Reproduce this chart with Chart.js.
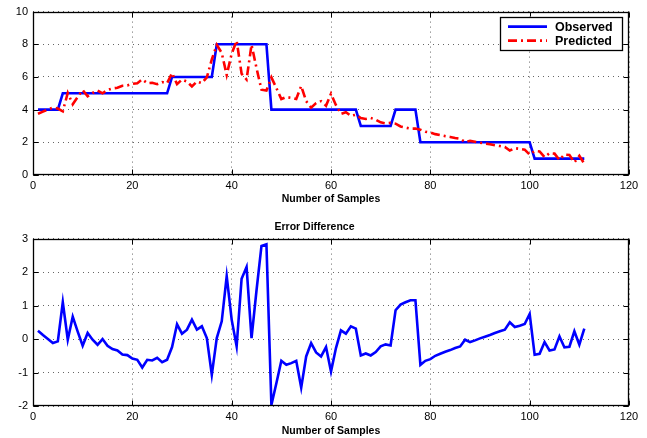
<!DOCTYPE html>
<html><head><meta charset="utf-8">
<script src="https://cdn.jsdelivr.net/npm/chart.js@4/dist/chart.umd.min.js"></script>
<style>
html,body{margin:0;padding:0;background:#fff;overflow:hidden;}
canvas{position:absolute;left:0;}
#c1{top:0;}
#c2{top:210px;}
</style></head><body>
<canvas id="c1" width="647" height="210"></canvas>
<canvas id="c2" width="647" height="228"></canvas>
<script>
const samples = [1,2,3,4,5,6,7,8,9,10,11,12,13,14,15,16,17,18,19,20,21,22,23,24,25,26,27,28,29,30,31,32,33,34,35,36,37,38,39,40,41,42,43,44,45,46,47,48,49,50,51,52,53,54,55,56,57,58,59,60,61,62,63,64,65,66,67,68,69,70,71,72,73,74,75,76,77,78,79,80,81,82,83,84,85,86,87,88,89,90,91,92,93,94,95,96,97,98,99,100,101,102,103,104,105,106,107,108,109,110,111];

const observed = [4,4,4,4,4,
5,5,5,5,5,5,5,5,5,5,5,5,5,5,5,5,5,5,5,5,5,5,
6,6,6,6,6,6,6,6,6,
8,8,8,8,8,8,8,8,8,8,8,
4,4,4,4,4,4,4,4,4,4,4,4,4,4,4,4,4,4,
3,3,3,3,3,3,3,
4,4,4,4,4,
2,2,2,2,2,2,2,2,2,2,2,2,2,2,2,2,2,2,2,2,2,2,2,
1,1,1,1,1,1,1,1,1,1,1];

const predicted = [3.75,3.88,4.0,4.12,4.07,3.9,5.02,4.33,4.78,5.2,
4.82,5.02,5.17,5.0,5.2,5.3,5.34,5.46,5.48,5.58,
5.62,5.85,5.62,5.64,5.56,5.69,5.62,6.24,5.56,5.84,
5.72,5.42,5.72,5.62,5.97,7.07,7.97,7.47,6.12,7.42,
8.22,6.2,5.85,7.97,6.55,5.22,5.17,5.97,5.32,4.65,
4.77,4.72,4.65,5.45,4.52,4.12,4.4,4.52,4.24,4.97,
4.27,3.74,3.84,3.62,3.69,3.49,3.43,3.49,3.39,3.22,
3.16,3.19,3.14,2.97,2.9,2.84,2.84,2.77,2.65,2.6,
2.5,2.44,2.38,2.33,2.27,2.22,2.02,2.09,2.04,1.98,
1.93,1.88,1.82,1.77,1.72,1.5,1.64,1.6,1.55,1.25,
1.47,1.44,1.09,1.34,1.31,0.92,1.25,1.23,0.77,1.17,
0.69];

const errorDiff = [0.25,0.12,0.0,-0.12,-0.07,1.1,-0.02,0.67,0.22,-0.2,
0.18,-0.02,-0.17,0.0,-0.2,-0.3,-0.34,-0.46,-0.48,-0.58,
-0.62,-0.85,-0.62,-0.64,-0.56,-0.69,-0.62,-0.24,0.44,0.16,
0.28,0.58,0.28,0.38,0.03,-1.07,0.03,0.53,1.88,0.58,
-0.22,1.8,2.15,0.03,1.45,2.78,2.83,-1.97,-1.32,-0.65,
-0.77,-0.72,-0.65,-1.45,-0.52,-0.12,-0.4,-0.52,-0.24,-0.97,
-0.27,0.26,0.16,0.38,0.31,-0.49,-0.43,-0.49,-0.39,-0.22,
-0.16,-0.19,0.86,1.03,1.1,1.16,1.16,-0.77,-0.65,-0.6,
-0.5,-0.44,-0.38,-0.33,-0.27,-0.22,-0.02,-0.09,-0.04,0.02,
0.07,0.12,0.18,0.23,0.28,0.5,0.36,0.4,0.45,0.75,
-0.47,-0.44,-0.09,-0.34,-0.31,0.08,-0.25,-0.23,0.23,-0.17,
0.31];

const xTicks = [0,20,40,60,80,100,120];
const yTicksTop = [0,2,4,6,8,10];
const yTicksBottom = [-2,-1,0,1,2,3];
const seriesNames = ['Observed','Predicted'];
const xTitle = 'Number of Samples';
const bottomTitle = 'Error Difference';

const FONT = "'Liberation Sans', Arial, Helvetica, sans-serif";
const pts = (ys) => samples.map((s, i) => ({x: s, y: ys[i]}));

const framePlugin = {
  id: 'frame',
  afterDatasetsDraw(chart) {
    const {ctx, chartArea: a, scales} = chart;
    ctx.save();
    ctx.strokeStyle = '#000';
    ctx.lineWidth = 1.3;
    const l = Math.round(a.left) + 0.5, r = Math.round(a.right) - 0.5;
    const t = Math.round(a.top) + 0.5, b = Math.round(a.bottom) - 0.5;
    ctx.strokeRect(l, t, r - l, b - t);
    const L = 5;
    ctx.lineWidth = 1;
    ctx.beginPath();
    scales.x.ticks.forEach(tk => {
      const px = Math.round(scales.x.getPixelForValue(tk.value)) + 0.5;
      ctx.moveTo(px, b); ctx.lineTo(px, b - L);
      ctx.moveTo(px, t); ctx.lineTo(px, t + L);
    });
    scales.y.ticks.forEach(tk => {
      const py = Math.round(scales.y.getPixelForValue(tk.value)) + 0.5;
      ctx.moveTo(l, py); ctx.lineTo(l + L, py);
      ctx.moveTo(r, py); ctx.lineTo(r - L, py);
    });
    ctx.stroke();
    ctx.restore();
  }
};

const legendPlugin = {
  id: 'boxLegend',
  afterDraw(chart) {
    const {ctx, chartArea: a} = chart;
    const w = 122, h = 33;
    const x0 = a.right - 7 - w, y0 = a.top + 5;
    ctx.save();
    ctx.fillStyle = '#fff';
    ctx.fillRect(x0, y0, w, h);
    ctx.strokeStyle = '#000';
    ctx.lineWidth = 1.3;
    ctx.strokeRect(Math.round(x0) + 0.5, Math.round(y0) + 0.5, w, h);
    chart.data.datasets.forEach((ds, i) => {
      const cy = y0 + 10 + i * 14;
      ctx.strokeStyle = ds.borderColor;
      ctx.lineWidth = ds.borderWidth;
      ctx.setLineDash(ds.borderDash || []);
      ctx.beginPath();
      ctx.moveTo(x0 + 8, cy); ctx.lineTo(x0 + 47, cy);
      ctx.stroke();
      ctx.setLineDash([]);
      ctx.fillStyle = '#000';
      ctx.font = "bold 12.5px " + FONT;
      ctx.textBaseline = 'middle';
      ctx.textAlign = 'left';
      ctx.fillText(ds.label, x0 + 55, cy + 0.5);
    });
    ctx.restore();
  }
};

function xScale(titlePadBottom, h) {
  return {
    type: 'linear', min: 0, max: 120,
    afterBuildTicks: s => { s.ticks = xTicks.map(v => ({value: v})); },
    afterFit: s => { s.height = h; },
    ticks: {color: '#000', font: {family: FONT, size: 11}, padding: 4, maxRotation: 0},
    grid: {color: 'rgba(0,0,0,0.6)', lineWidth: 1, drawTicks: false},
    border: {display: false, dash: [1, 4]},
    title: {display: true, text: xTitle, color: '#000', font: {family: FONT, size: 10.5, weight: 'bold'}, padding: {top: 0, bottom: titlePadBottom}}
  };
}
function yScale(min, max, ticksArr) {
  return {
    type: 'linear', min: min, max: max,
    afterBuildTicks: s => { s.ticks = ticksArr.map(v => ({value: v})); },
    afterFit: s => { s.width = 33; },
    ticks: {color: '#000', font: {family: FONT, size: 11}, padding: 5},
    grid: {color: 'rgba(0,0,0,0.6)', lineWidth: 1, drawTicks: false},
    border: {display: false, dash: [1, 4]}
  };
}

new Chart(document.getElementById('c1'), {
  type: 'line',
  data: {
    datasets: [
      {label: seriesNames[0], data: pts(observed), borderColor: '#0000ff', borderWidth: 2.6, pointRadius: 0, tension: 0, fill: false, order: 1},
      {label: seriesNames[1], data: pts(predicted), borderColor: '#ff0000', borderWidth: 2.6, borderDash: [9, 4, 2, 4], pointRadius: 0, tension: 0, fill: false, order: 0}
    ]
  },
  options: {
    responsive: false, animation: false,
    layout: {padding: {left: 0, right: 18, top: 9, bottom: 0}},
    plugins: {legend: {display: false}, tooltip: {enabled: false}, title: {display: false}},
    scales: {x: xScale(5, 35), y: yScale(0, 10, yTicksTop)}
  },
  plugins: [framePlugin, legendPlugin]
});

new Chart(document.getElementById('c2'), {
  type: 'line',
  data: {
    datasets: [
      {label: bottomTitle, data: pts(errorDiff), borderColor: '#0000ff', borderWidth: 2.6, pointRadius: 0, tension: 0, fill: false}
    ]
  },
  options: {
    responsive: false, animation: false,
    layout: {padding: {left: 0, right: 18, top: 0, bottom: 0}},
    plugins: {
      legend: {display: false}, tooltip: {enabled: false},
      title: {display: true, text: bottomTitle, color: '#000', font: {family: FONT, size: 10.5, weight: 'bold'}, padding: {top: 11, bottom: 5}}
    },
    scales: {x: xScale(1, 32), y: yScale(-2, 3, yTicksBottom)}
  },
  plugins: [framePlugin]
});
</script>
</body></html>
